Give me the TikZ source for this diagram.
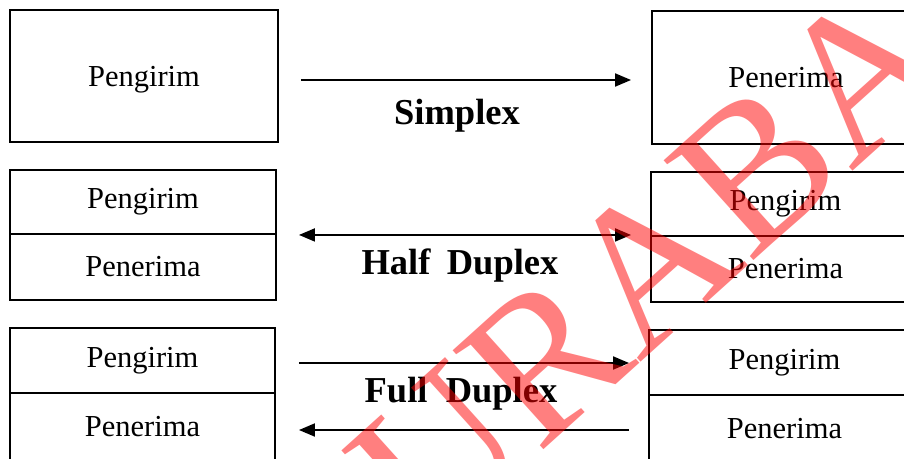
\documentclass[tikz,border=0pt]{standalone}
\usepackage{fontspec}
\setmainfont{Liberation Serif}
\usetikzlibrary{arrows.meta}
\begin{document}
\begin{tikzpicture}[x=1pt,y=-1pt,
  boxnode/.style={draw, line width=1.9pt, inner sep=0pt, font=\fontsize{30.5}{33}\selectfont},
  bigbox/.style={boxnode, text height=26pt, text depth=6pt},
  modelabel/.style={font=\fontsize{36.5}{40}\selectfont\bfseries, inner sep=0pt},
  flow/.style={line width=1.9pt, -{Triangle[length=16pt,width=13pt]}},
  flowboth/.style={line width=1.9pt, {Triangle[length=16pt,width=13pt]}-{Triangle[length=16pt,width=13pt]}},
  stamp/.style={font=\fontsize{205}{210}\selectfont, text=red, text opacity=0.5, inner sep=0pt}
]
\useasboundingbox (0,0) rectangle (904,458);
% Row 1: Simplex
\node[bigbox, minimum width=268pt, minimum height=132pt] (L1) at (144,76) {Pengirim};
\node[bigbox, minimum width=268pt, minimum height=133pt] (R1) at (786,77.5) {Penerima};
\coordinate (a1) at ([yshift=-4pt]L1.east);
\draw[flow, shorten <=22pt, shorten >=20pt] (a1) -- (a1 -| R1.west);
\node[modelabel] (s1) at (457,116) {Simplex};
% Row 2: Half Duplex
\node[boxnode, minimum width=266pt, minimum height=64pt] (L2a) at (143,202) {Pengirim};
\node[boxnode, minimum width=266pt, minimum height=66pt] (L2b) at (143,267) {Penerima};
\node[boxnode, minimum width=269pt, minimum height=64pt] (R2a) at (785.5,204) {Pengirim};
\node[boxnode, minimum width=269pt, minimum height=66pt] (R2b) at (785.5,269) {Penerima};
\draw[flowboth, shorten <=22pt, shorten >=19pt] (L2a.south east) -- (L2a.south east -| R2a.west);
\node[modelabel] (s2) at (460,266) {Half\hspace{0.45em}Duplex};
% Row 3: Full Duplex
\node[boxnode, minimum width=265pt, minimum height=65pt] (L3a) at (142.5,360.5) {Pengirim};
\node[boxnode, minimum width=265pt, minimum height=67pt] (L3b) at (142.5,426.5) {Penerima};
\node[boxnode, minimum width=271pt, minimum height=65pt] (R3a) at (784.5,362.5) {Pengirim};
\node[boxnode, minimum width=271pt, minimum height=67pt] (R3b) at (784.5,428.5) {Penerima};
\coordinate (c1) at ([yshift=-2.5pt]L3a.east);
\coordinate (c2) at ([yshift=-3.5pt]L3b.east);
\draw[flow, shorten <=23pt, shorten >=19pt] (c1) -- (c1 -| R3a.west);
\draw[flow, shorten <=19pt, shorten >=23pt] (c2 -| R3b.west) -- (c2);
\node[modelabel] (s3) at (461,394) {Full\hspace{0.5em}Duplex};
% watermark
\node[stamp, anchor=base west, rotate=42] (wm) at (428,554) {URABA};
\end{tikzpicture}
\end{document}
